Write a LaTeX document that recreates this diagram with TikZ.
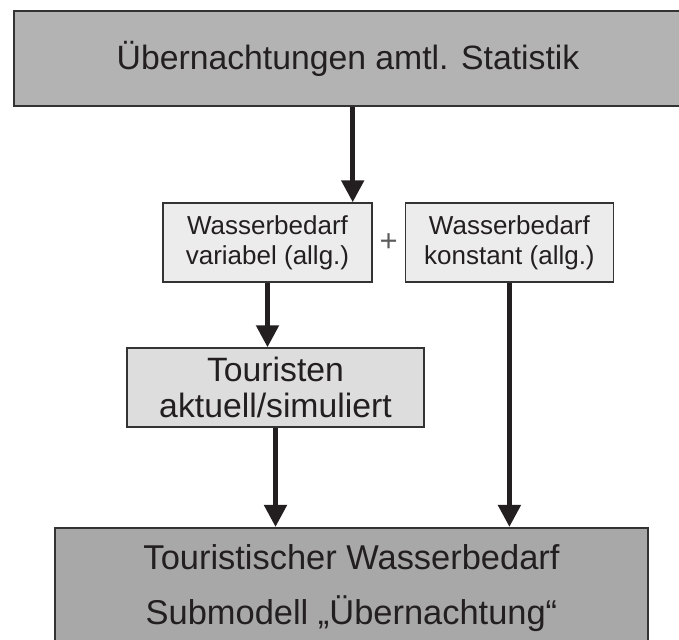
\documentclass[tikz,border=0pt]{standalone}
\usepackage{fontspec}
\setmainfont{Liberation Sans}
\usetikzlibrary{arrows.meta,positioning,calc}
\definecolor{boxdark}{RGB}{168,168,168}
\definecolor{boxmid}{RGB}{179,179,179}
\definecolor{boxlight}{RGB}{236,236,236}
\definecolor{boxpale}{RGB}{221,221,221}
\definecolor{frame}{RGB}{51,51,51}
\definecolor{ink}{RGB}{35,31,32}

\tikzset{
  bigbox/.style={draw=frame, line width=1.5pt, text=ink, align=center, inner sep=0pt,
    font=\fontsize{24}{36}\selectfont},
  smallbox/.style={draw=frame, line width=1pt, fill=boxlight, text=ink, align=center,
    inner sep=0pt, minimum width=5.2cm, minimum height=1.975cm,
    font=\fontsize{18.5}{21.5}\selectfont},
  flow/.style={-{Triangle[width=0.55cm,length=0.55cm]}, line width=0.125cm, draw=ink},
}

\begin{document}
\begin{tikzpicture}

    \useasboundingbox (0,0) rectangle (16.975,16);

    % Input from the official statistics
    \node[bigbox, fill=boxmid, minimum width=16.7cm, minimum height=2.375cm]
        (stat) at (8.7,14.5375) {Übernachtungen amtl. Statistik};

    % Water demand, variable and constant part
    \node[smallbox, minimum width=5.225cm] (var) at (6.6875,9.9375)
        {Wasserbedarf\\variabel (allg.)};
    \node[smallbox, right=0.8cm of var] (kon)
        {Wasserbedarf\\konstant (allg.)};
    \node[text=frame!80, font=\fontsize{22}{24}\selectfont, inner sep=0pt] (plus)
        at ($(var.east)!0.5!(kon.west)$) {+};

    % Tourists
    \node[smallbox, fill=boxpale, minimum width=7.425cm,
        font=\fontsize{24}{25}\selectfont] (tour) at (6.8875,6.3125)
        {Touristen\\aktuell/simuliert};

    % Result of the submodel
    \node[bigbox, fill=boxdark, minimum width=14.825cm, minimum height=3.025cm,
        font=\fontsize{24.5}{39}\selectfont] (sub) at (8.7875,1.2875)
        {Touristischer Wasserbedarf\\Submodell „Übernachtung“};

    % Arrows
    \coordinate (in) at ([xshift=-0.5cm]var.north east);
    \draw[flow] (stat.south -| in) -- (in);
    \draw[flow] (var.south) -- (var.south |- tour.north);
    \draw[flow] (tour.south) -- (tour.south |- sub.north);
    \draw[flow] (kon.south) -- (kon.south |- sub.north);

\end{tikzpicture}
\end{document}
